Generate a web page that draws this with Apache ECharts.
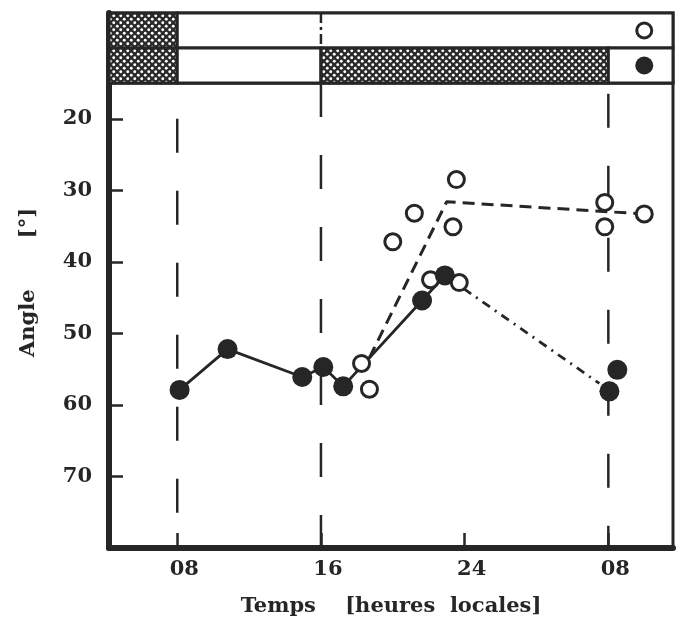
<!DOCTYPE html>
<html>
<head>
<meta charset="utf-8">
<script src="https://cdn.jsdelivr.net/npm/echarts@6/dist/echarts.min.js"></script>
<style>
  html, body { margin: 0; padding: 0; background: #fff; }
  #chartContainer { width: 676px; height: 630px; }
</style>
</head>
<body>
<div id="chartContainer"></div>
<script>
var INK = '#262626';
var FONT = '"DejaVu Serif", serif';

// axis ranges (hours since midnight of day 1, angle in degrees)
var HOUR_MIN = 4.2;
var HOUR_MAX = 35.6;
var ANGLE_MIN = 15;
var ANGLE_MAX = 80;

var tickHours = [8, 16, 24, 32];
var tickLabels = ['08', '16', '24', '08'];
var angleTicks = [20, 30, 40, 50, 60, 70];

// vertical dashed guides: hour, angle where the guide starts
var guideHours = [8, 16, 32];
var guideFrom = [20, 15, 16.5];

// filled circles
var filledPts = [
  [8.13, 57.9], [10.8, 52.2], [14.96, 56.1], [16.13, 54.7], [17.24, 57.4],
  [21.63, 45.4], [22.9, 41.9], [32.06, 58.1], [32.5, 55.1]
];
// open circles
var openPts = [
  [18.26, 54.2], [18.7, 57.8], [20.0, 37.2], [21.2, 33.2], [22.1, 42.5],
  [23.35, 35.1], [23.54, 28.5], [23.7, 42.9], [31.8, 31.7], [31.8, 35.1],
  [34.0, 33.3]
];
// connecting lines
var solidLine = [
  [8.13, 57.9], [10.8, 52.2], [14.96, 56.1], [16.13, 54.7], [17.24, 57.4],
  [21.63, 45.4], [22.9, 41.9]
];
var dashDotLine = [[22.9, 41.9], [31.5, 57.0]];
var dashedLine = [[18.7, 53.4], [23.0, 31.6], [32.0, 33.0], [34.0, 33.3]];

// light/dark bars on top: [start hour, end hour, row, dark(1)/light(0)]
var barSegments = [
  [4.2, 8, 0, 1], [8, 35.6, 0, 0],
  [4.2, 8, 1, 1], [8, 16, 1, 0], [16, 32, 1, 1], [32, 35.6, 1, 0]
];
var barKeyOpen = [[34.0, 0.5]];
var barKeyFilled = [[34.0, 1.5]];

function makeDots() {
  var c = document.createElement('canvas');
  c.width = 7; c.height = 7;
  var ctx = c.getContext('2d');
  ctx.fillStyle = '#2a2a2a';
  ctx.fillRect(0, 0, 7, 7);
  ctx.fillStyle = '#ffffff';
  [[1.75, 1.75], [5.25, 5.25]].forEach(function (p) {
    ctx.beginPath();
    ctx.arc(p[0], p[1], 1.45, 0, Math.PI * 2);
    ctx.fill();
  });
  return c;
}

var CHART;
window.onload = function () {
  var dots = { image: makeDots(), repeat: 'repeat' };
  CHART = echarts.init(document.getElementById('chartContainer'), null, { renderer: 'canvas' });

  var guideSeries = guideHours.map(function (h, i) {
    return {
      type: 'line', xAxisIndex: 0, yAxisIndex: 0,
      data: [[h, guideFrom[i]], [h, ANGLE_MAX]],
      symbol: 'none', silent: true, z: 1,
      lineStyle: { color: INK, width: 2.5, type: [34, 38] }
    };
  });

  var labelStyle = { color: INK, fontFamily: FONT, fontWeight: 'bold', fontSize: 21 };

  var option = {
    animation: false,
    backgroundColor: '#fff',
    grid: [
      { id: 'plot', left: 109, top: 83, width: 564, height: 465, show: true,
        borderColor: INK, borderWidth: 3, backgroundColor: 'transparent' },
      { id: 'bars', left: 109, top: 13, width: 564, height: 70, show: true,
        borderColor: INK, borderWidth: 3, backgroundColor: 'transparent' }
    ],
    xAxis: [
      {
        gridIndex: 0, type: 'value', min: HOUR_MIN, max: HOUR_MAX,
        splitLine: { show: false },
        axisLine: { show: true, onZero: false, lineStyle: { color: INK, width: 6 } },
        axisTick: { show: true, inside: true, length: 15, customValues: tickHours,
          lineStyle: { color: INK, width: 2.5 } },
        axisLabel: Object.assign({ customValues: tickHours, margin: 11, padding: [0, 0, 0, 14],
          formatter: function (v) { return tickLabels[tickHours.indexOf(v)]; } }, labelStyle),
        name: 'Temps    [heures  locales]', nameLocation: 'middle', nameGap: 48,
        nameTextStyle: labelStyle
      },
      {
        gridIndex: 1, type: 'value', min: HOUR_MIN, max: HOUR_MAX,
        show: false
      }
    ],
    yAxis: [
      {
        gridIndex: 0, type: 'value', min: ANGLE_MIN, max: ANGLE_MAX, inverse: true,
        splitLine: { show: false },
        axisLine: { show: true, onZero: false, lineStyle: { color: INK, width: 6 } },
        axisTick: { show: true, inside: true, length: 14, customValues: angleTicks,
          lineStyle: { color: INK, width: 2.5 } },
        axisLabel: Object.assign({ customValues: angleTicks, margin: 17 }, labelStyle),
        name: 'Angle       [°]', nameLocation: 'middle', nameGap: 70, nameRotate: 90,
        nameTextStyle: Object.assign({ padding: [0, 0, 0, 66] }, labelStyle)
      },
      {
        gridIndex: 1, type: 'value', min: 0, max: 2, inverse: true,
        splitLine: { show: false }, axisTick: { show: false }, axisLabel: { show: false },
        axisLine: { show: true, onZero: false, lineStyle: { color: INK, width: 6 } }
      }
    ],
    series: guideSeries.concat([
      {
        type: 'custom', xAxisIndex: 1, yAxisIndex: 1, data: barSegments, silent: true,
        renderItem: function (params, api) {
          var s = api.coord([api.value(0), api.value(2)]);
          var e = api.coord([api.value(1), api.value(2) + 1]);
          return {
            type: 'rect',
            shape: { x: s[0], y: s[1], width: e[0] - s[0], height: e[1] - s[1] },
            style: { fill: api.value(3) ? dots : '#fff', stroke: INK, lineWidth: 3 }
          };
        }
      },
      {
        type: 'line', xAxisIndex: 1, yAxisIndex: 1, data: [[16, 0], [16, 1]],
        symbol: 'none', silent: true, z: 3,
        lineStyle: { color: INK, width: 2.5, type: [10, 4, 3, 4] }
      },
      {
        type: 'scatter', xAxisIndex: 1, yAxisIndex: 1, data: barKeyOpen, z: 4,
        symbol: 'circle', symbolSize: 15,
        itemStyle: { color: '#fff', borderColor: INK, borderWidth: 3, opacity: 1 }
      },
      {
        type: 'scatter', xAxisIndex: 1, yAxisIndex: 1, data: barKeyFilled, z: 4,
        symbol: 'circle', symbolSize: 18,
        itemStyle: { color: INK, opacity: 1 }
      },
      {
        type: 'line', data: solidLine, symbol: 'none', z: 2,
        lineStyle: { color: INK, width: 2.8 }
      },
      {
        type: 'line', data: dashDotLine, symbol: 'none', z: 2,
        lineStyle: { color: INK, width: 2.8, type: [9, 6, 2, 6] }
      },
      {
        type: 'line', data: dashedLine, symbol: 'none', z: 2,
        lineStyle: { color: INK, width: 3, type: [12, 7] }
      },
      {
        type: 'scatter', data: openPts, z: 5, symbol: 'circle', symbolSize: 16,
        itemStyle: { color: '#fff', borderColor: INK, borderWidth: 3, opacity: 1 }
      },
      {
        type: 'scatter', data: filledPts, z: 6, symbol: 'circle', symbolSize: 20,
        itemStyle: { color: INK, opacity: 1 }
      }
    ])
  };
  CHART.setOption(option);
};
</script>
</body>
</html>
